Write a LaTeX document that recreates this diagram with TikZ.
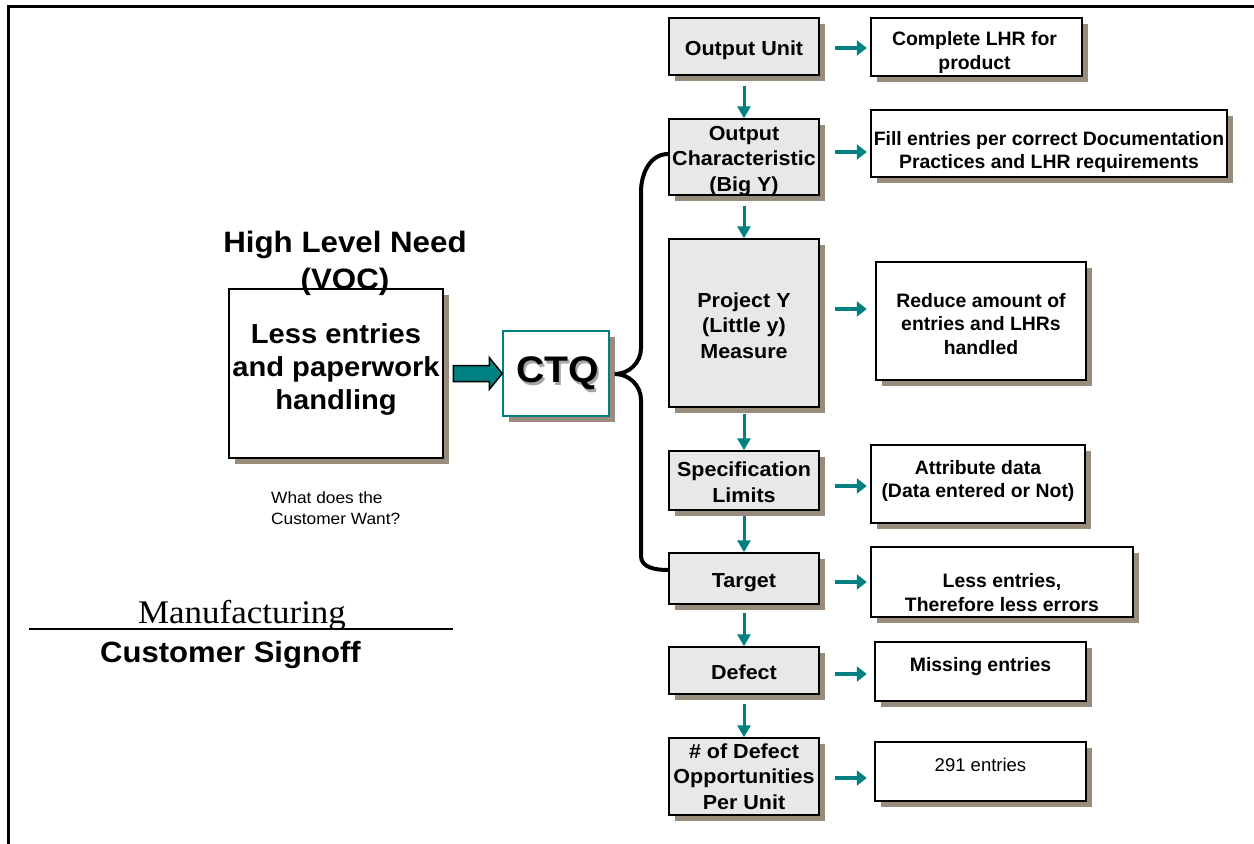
\documentclass[tikz,border=0pt]{standalone}
\usepackage{fontspec}
\setmainfont{Liberation Sans}
\newfontfamily\widesf[FakeStretch=1.06]{Liberation Sans}
\newfontfamily\tmsfont[FakeStretch=1.06]{Liberation Serif}
\usetikzlibrary{arrows.meta,calc,shadows}
\definecolor{tealc}{RGB}{0,128,128}
\definecolor{shd}{RGB}{152,140,124}
\definecolor{boxgray}{RGB}{232,232,232}
\tikzset{
  shd/.style={general shadow={fill=shd, shadow xshift=6pt, shadow yshift=-6pt}},
  lbox/.style={draw=black, line width=1.5pt, fill=boxgray, minimum width=150pt, inner sep=0pt, shd},
  ltxt/.style={inner sep=0pt, align=center, font=\widesf\fontsize{20.3}{25.5}\selectfont\bfseries},
  rbox/.style={draw=black, line width=1.5pt, fill=white, inner sep=0pt, shd},
  rtxt/.style={inner sep=0pt, align=center, font=\fontsize{19.4}{23.5}\selectfont\bfseries},
  varr/.style={draw=tealc, line width=3pt, -{Triangle[length=12pt,width=13pt]}},
  harr/.style={draw=tealc, line width=4.5pt, -{Triangle[length=10pt,width=15pt]}},
}
\begin{document}
\begin{tikzpicture}[x=1pt,y=-1pt]
\useasboundingbox (0,0) rectangle (1254,844);
% frame
\draw[line width=3pt] (8.5,844) -- (8.5,6.5) -- (1254,6.5);

% left column
\node[lbox, minimum height=57pt] (ou) at (744,46.5) {};
\node[ltxt] (out) at (744,50.5) {Output Unit};
\node[lbox, minimum height=76pt] (oc) at (744,157) {};
\node[ltxt] (oct) at (744,161) {Output\\Characteristic\\(Big Y)};
\node[lbox, minimum height=168pt] (py) at (744,323) {};
\node[ltxt] (pyt) at (744,325.5) {Project Y\\(Little y)\\Measure};
\node[lbox, minimum height=59pt] (sl) at (744,480.5) {};
\node[ltxt] (slt) at (744,482) {Specification\\Limits};
\node[lbox, minimum height=51pt] (tg) at (744,578.5) {};
\node[ltxt] (tgt) at (744,582.5) {Target};
\node[lbox, minimum height=47pt] (df) at (744,670.5) {};
\node[ltxt] (dft) at (744,672.5) {Defect};
\node[lbox, minimum height=77pt] (dop) at (744,776.5) {};
\node[ltxt] (dopt) at (744,776.5) {\# of Defect\\Opportunities\\Per Unit};

% vertical arrows
\draw[varr] ([yshift=-10pt]ou.south) -- (oc.north);
\draw[varr] ([yshift=-10pt]oc.south) -- (py.north);
\draw[varr] ([yshift=-6pt]py.south) -- (sl.north);
\draw[varr] ([yshift=-5pt]sl.south) -- (tg.north);
\draw[varr] ([yshift=-8pt]tg.south) -- (df.north);
\draw[varr] ([yshift=-9pt]df.south) -- (dop.north);

% right boxes
\node[rbox, minimum width=211pt, minimum height=58pt] (r1) at (976.5,47) {};
\node[rtxt] (r1t) at (974.5,52.5) {Complete LHR for\\product};
\node[rbox, minimum width=356pt, minimum height=67pt] (r2) at (1049,143.5) {};
\node[rtxt] (r2t) at (1049,152) {Fill entries per correct Documentation\\Practices and LHR requirements};
\node[rbox, minimum width=210pt, minimum height=118pt] (r3) at (981,321) {};
\node[rtxt] (r3t) at (981,324) {Reduce amount of\\entries and LHRs\\handled};
\node[rbox, minimum width=214pt, minimum height=78pt] (r4) at (978,484) {};
\node[rtxt] (r4t) at (978,481) {Attribute data\\(Data entered or Not)};
\node[rbox, minimum width=262pt, minimum height=70pt] (r5) at (1002,582) {};
\node[rtxt] (r5t) at (1002,592.5) {Less entries,\\Therefore less errors};
\node[rbox, minimum width=211pt, minimum height=59pt] (r6) at (980.5,671.5) {};
\node[rtxt, anchor=base] (r6t) at (980.5,671) {Missing entries};
\node[rbox, minimum width=211pt, minimum height=59pt] (r7) at (980.5,771.5) {};
\node[inner sep=0pt, anchor=base, font=\fontsize{18.5}{22}\selectfont] (r7t) at (980.5,771) {291 entries};

% horizontal arrows
\draw[harr] ([xshift=15pt,yshift=-1.5pt]ou.east) -- ([xshift=47pt,yshift=-1.5pt]ou.east);
\draw[harr] ([xshift=15pt,yshift=5pt]oc.east) -- ([xshift=47pt,yshift=5pt]oc.east);
\draw[harr] ([xshift=15pt,yshift=14pt]py.east) -- ([xshift=47pt,yshift=14pt]py.east);
\draw[harr] ([xshift=15pt,yshift=-5.5pt]sl.east) -- ([xshift=47pt,yshift=-5.5pt]sl.east);
\draw[harr] ([xshift=15pt,yshift=-3.5pt]tg.east) -- ([xshift=47pt,yshift=-3.5pt]tg.east);
\draw[harr] ([xshift=15pt,yshift=-3.5pt]df.east) -- ([xshift=47pt,yshift=-3.5pt]df.east);
\draw[harr] ([xshift=15pt,yshift=-1.5pt]dop.east) -- ([xshift=47pt,yshift=-1.5pt]dop.east);

% left need box
\node[draw=black, line width=1.5pt, fill=white, minimum width=214pt, minimum height=169pt, shd] (need) at (336,373.5) {};
\node[inner sep=0pt, align=center, font=\widesf\fontsize{27.5}{33}\selectfont\bfseries] (needt) at (336,369.5) {Less entries\\and paperwork\\handling};
\node[inner sep=0pt, align=center, font=\widesf\fontsize{29.5}{37}\selectfont\bfseries] (hln) at (345,263) {High Level Need\\(VOC)};

% CTQ box
\node[draw=tealc, line width=1.5pt, fill=white, minimum width=106pt, minimum height=85pt, shd] (ctq) at (556,373.5) {};
\node[inner sep=0pt, font=\widesf\fontsize{37}{40}\selectfont\bfseries] (ctqt) at (557.5,374.5)
  {\rlap{\hspace{2.5pt}\raisebox{-2.5pt}{\color{black!35}CTQ}}CTQ};

% block arrow
\draw[line width=1.5pt, fill=tealc, line join=miter]
  ($(ctq.west)+(-49,-8)$) -- ($(ctq.west)+(-13,-8)$) -- ($(ctq.west)+(-13,-16)$) -- (ctq.west)
  -- ($(ctq.west)+(-13,16)$) -- ($(ctq.west)+(-13,8)$) -- ($(ctq.west)+(-49,8)$) -- cycle;

% brace
\draw[line width=4pt] ([yshift=3pt]oc.west) to[out=180,in=90] (641,192) -- (641,348)
  to[out=-90,in=0] ($(ctq.east)+(5,0.5)$) to[out=0,in=90] (641,400) -- (641,556)
  to[out=-90,in=180] ([yshift=8.5pt]tg.west);

% lower left texts
\node[inner sep=0pt, anchor=west, align=left, font=\widesf\fontsize{16.3}{21}\selectfont] (want) at (271,508) {What does the\\Customer Want?};
\node[inner sep=0pt, anchor=base, font=\tmsfont\fontsize{33}{36}\selectfont] (mfg) at (242,623) {Manufacturing};
\draw[line width=1.3pt] (29,629) -- (453,629);
\node[inner sep=0pt, anchor=base, font=\widesf\fontsize{29.3}{32}\selectfont\bfseries] (cso) at (230.5,662) {Customer Signoff};
\end{tikzpicture}
\end{document}
